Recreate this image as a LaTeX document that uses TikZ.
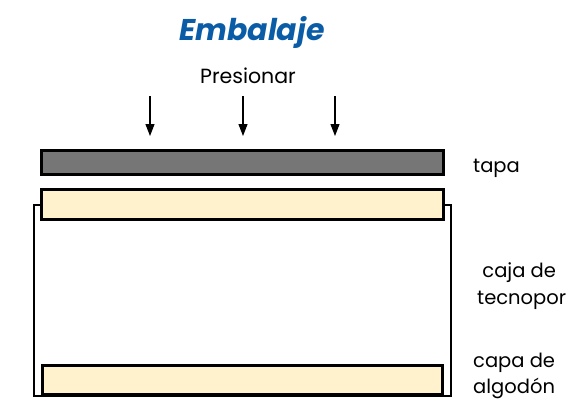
\documentclass[tikz,border=0pt]{standalone}
\usepackage{fontspec}
\setmainfont{Poppins}
\usetikzlibrary{arrows.meta}
\definecolor{titulo}{HTML}{0B5CA6}
\definecolor{tapagris}{HTML}{767676}
\definecolor{algodon}{HTML}{FFF2CC}

\begin{document}
\begin{tikzpicture}[x=1pt,y=-1pt,
    capa/.style={draw, line width=2.4pt, minimum width=402pt, inner sep=0pt},
    texto/.style={anchor=west, font=\fontsize{19.5}{27}\selectfont, align=left, inner sep=0pt},
    flecha/.style={line width=1.1pt, -{Triangle[length=12pt,width=9pt]}}]
    \useasboundingbox (0,0) rectangle (572,400);
    \node[font=\fontsize{30}{33}\selectfont\bfseries\itshape, text=titulo] (titulo) at (252,32) {Embalaje};
    \node[font=\fontsize{20.5}{24}\selectfont] (presionar) at (248,76) {Presionar};
    % arrows pressing on the lid
    \foreach \x/\n in {150/a,243/b,335/c} {
        \coordinate (\n1) at (\x,96);
        \coordinate (\n2) at (\x,136);
        \draw[flecha] (\n1) -- (\n2);
    }
    \node[capa, fill=tapagris, minimum height=24pt] (tapa) at (242.5,162.5) {};
    % polystyrene box, open at the top
    \coordinate (c1) at (41,205);
    \coordinate (c2) at (34,205);
    \coordinate (c3) at (34,396);
    \coordinate (c4) at (451,396);
    \coordinate (c5) at (451,205);
    \coordinate (c6) at (444,205);
    \draw[line width=2.6pt] (c1) -- (c2) -- (c3) -- (c4) -- (c5) -- (c6);
    \node[capa, fill=algodon, minimum height=30pt] (capaarriba) at (242.5,204.5) {};
    \node[capa, fill=algodon, minimum height=29pt, minimum width=400pt] (capaabajo) at (242.5,380) {};
    \node[texto] (ltapa) at (473,168) {tapa};
    \node[texto] (lcaja) at (477,286) {\ caja de\\tecnopor};
    \node[texto, font=\fontsize{19.5}{25.5}\selectfont] (lcapa) at (473,376) {capa de\\algodón};
\end{tikzpicture}
\end{document}
